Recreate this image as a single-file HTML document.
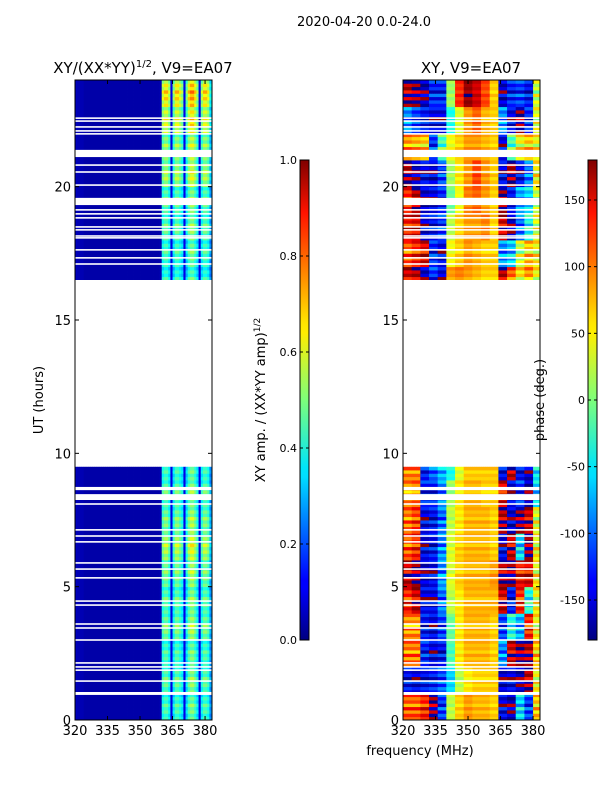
<!DOCTYPE html>
<html><head><meta charset="utf-8"><style>
body{margin:0;background:#fff;}
svg{display:block;font-family:"DejaVu Sans","Liberation Sans",sans-serif;}
</style></head><body>
<svg id="fig" width="600" height="800" xmlns="http://www.w3.org/2000/svg">
<defs>
<linearGradient id="jet" x1="0" y1="1" x2="0" y2="0">
<stop offset="0" stop-color="#000080"/><stop offset="0.11" stop-color="#0000ff"/><stop offset="0.125" stop-color="#0000ff"/>
<stop offset="0.34" stop-color="#00ddff"/><stop offset="0.36" stop-color="#00e5f8"/><stop offset="0.5" stop-color="#7dff7a"/>
<stop offset="0.64" stop-color="#ffee00"/><stop offset="0.66" stop-color="#ffe600"/><stop offset="0.89" stop-color="#ff1300"/>
<stop offset="1" stop-color="#800000"/></linearGradient>
</defs>
<text x="364" y="26" text-anchor="middle" font-size="13">2020-04-20 0.0-24.0</text>
<g id="left"></g>
<g id="right"></g>
<g id="cb1"></g>
<g id="cb2"></g>
<text x="43" y="400" font-size="13" text-anchor="middle" transform="rotate(-90 43 400)">UT (hours)</text>
<text x="420" y="755" font-size="13" text-anchor="middle">frequency (MHz)</text>
<text x="265" y="400" font-size="13" text-anchor="middle" transform="rotate(-90 265 400)">XY amp. / (XX*YY amp)<tspan dy="-5" font-size="9">1/2</tspan></text>
<text x="544" y="400" font-size="13" text-anchor="middle" transform="rotate(-90 544 400)">phase (deg.)</text>
</svg>
<script>
// ---- data ----
const freqTicks=[320,335,350,365,380];
const timeTicks=[0,5,10,15,20];
const ampTicks=[0.0,0.2,0.4,0.6,0.8,1.0];
const phaseTicks=[-150,-100,-50,0,50,100,150];
const dataSegments=[[0,9.5],[16.5,24]];
const gaps=[[22.54,22.6],[22.43,22.49],[22.21,22.27],[22.06,22.12],[21.95,22.01],[21.11,21.38],[20.78,20.84],[20.52,20.58],[20.03,20.09],[19.31,19.58],[19.1,19.16],[18.95,19.01],[18.8,18.86],[18.46,18.52],[18.35,18.41],[18.12,18.18],[18.05,18.11],[17.6,17.66],[17.3,17.36],[17.07,17.13],
[8.62,8.74],[8.25,8.47],[8.07,8.13],[7.1,7.16],[6.87,6.93],[6.65,6.71],[5.86,5.92],[5.63,5.69],[5.3,5.36],[4.43,4.49],[4.28,4.34],[3.57,3.63],[3.42,3.48],[2.97,3.03],[2.11,2.17],[1.96,2.02],[1.84,1.9],[1.43,1.49],[0.94,1.05]];
// amplitude per 1-MHz channel, 320..382
const ampCol=[0.06,0.05,0.05,0.05,0.04,0.04,0.04,0.04,0.04,0.04,0.04,0.04,0.04,0.04,0.04,0.04,0.04,0.04,0.04,0.04,0.04,0.04,0.04,0.04,0.04,0.04,0.04,0.04,0.04,0.04,0.04,0.04,0.04,0.04,0.04,0.04,0.04,0.04,0.04,0.05,
0.45,0.5,0.5,0.42,0.1,0.4,0.5,0.5,0.45,0.4,0.1,0.38,0.5,0.55,0.55,0.48,0.4,0.1,0.42,0.5,0.5,0.45,0.3];
// hourly scale of bright channels
const ampRow=[0.9,0.95,0.9,1.0,0.95,1.0,1.1,1.0,0.95,0.9,0,0,0,0,0,0,0.85,0.9,0.95,0.95,1.1,1.05,1.2,1.3];
const ampSub=[1.0,0.9,1.05,0.95,1.1,0.9,1.0,0.85];
// phase (deg) per 4-MHz block (322..382), per hour
const phaseRows={
0:[100,100,120,170,-120,20,60,80,70,70,60,-150,-170,-60,-120,60],
1:[-140,-150,-140,-130,-110,-60,20,50,60,60,60,-160,-150,-170,160,40],
2:[90,90,-130,-150,-140,-20,50,70,70,70,60,-90,150,170,160,60],
3:[80,80,-140,-150,-120,-10,50,70,70,70,60,-120,-40,-80,120,40],
4:[120,150,-150,-150,-100,20,50,70,70,70,70,150,-140,120,-40,40],
5:[150,170,-160,-150,-90,30,60,70,70,70,80,160,170,130,140,40],
6:[100,120,-150,-140,-90,30,60,70,70,70,60,-150,150,-60,170,40],
7:[90,110,-150,-140,-100,20,50,70,70,70,60,160,-160,170,150,30],
8:[80,90,-130,-130,-90,10,50,70,70,60,60,140,-150,-120,-170,-60],
9:[80,80,-140,-110,-80,-40,30,60,60,60,60,-150,150,-150,-170,-60],
16:[150,160,-160,-120,-150,80,90,80,70,60,60,160,100,50,80,40],
17:[100,120,140,-130,-150,40,60,80,70,60,60,-90,-70,20,60,40],
18:[130,140,-150,-140,-120,20,60,80,80,90,60,150,-170,-100,-40,30],
19:[120,160,-160,-150,-130,-10,40,90,100,80,60,170,-140,-80,-60,20],
20:[160,-170,-150,-160,-120,10,50,80,110,80,60,-150,160,-150,-100,40],
21:[80,70,60,-120,-20,40,60,80,80,70,60,-150,-20,40,60,40],
22:[-90,-120,-140,-150,-150,-40,30,80,100,70,60,-90,-150,170,-130,30],
23:[160,170,-170,-130,-130,10,120,170,150,110,60,-160,-130,-120,-140,20]};
const phaseSub=[0,25,-20,40,-35,15,-10,30];
// ---- helpers ----
const NS="http://www.w3.org/2000/svg";
const Y0=80,Y1=720,F0=320,F1=383.2;
function yS(h){return Y1-(h-0)/(24-0)*(Y1-Y0);}
function xS(f,x0){return x0+(f-F0)/(F1-F0)*137;}
function jet(v){v=Math.max(0,Math.min(1,v));
 const r=Math.min(4*v-1.5,-4*v+4.5),g=Math.min(4*v-0.5,-4*v+3.5),b=Math.min(4*v+0.5,-4*v+2.5);
 const c=t=>Math.round(255*Math.max(0,Math.min(1,t)));return `rgb(${c(r)},${c(g)},${c(b)})`;}
function mk(tag,attrs,parent){const e=document.createElementNS(NS,tag);for(const k in attrs)e.setAttribute(k,attrs[k]);parent.appendChild(e);return e;}
function inData(h){return dataSegments.some(s=>h>=s[0]&&h<s[1]);}
function drawAxes(g,x0){
 mk('rect',{x:x0,y:Y0,width:137,height:Y1-Y0,fill:'none',stroke:'#000','stroke-width':1},g);
 freqTicks.forEach(f=>{const x=xS(f,x0);
  mk('line',{x1:x,x2:x,y1:Y1,y2:Y1-4,stroke:'#000'},g);mk('line',{x1:x,x2:x,y1:Y0,y2:Y0+4,stroke:'#000'},g);
  const t=mk('text',{x:x,y:Y1+15,'text-anchor':'middle','font-size':13},g);t.textContent=f;
  
  });
 timeTicks.forEach(h=>{const y=yS(h);
  mk('line',{x1:x0,x2:x0+4,y1:y,y2:y,stroke:'#000'},g);mk('line',{x1:x0+137,x2:x0+133,y1:y,y2:y,stroke:'#000'},g);
  const t=mk('text',{x:x0-4,y:y+5,'text-anchor':'end','font-size':13},g);t.textContent=h;
  
  });
}
function drawHeat(g,x0,valueFn){
 for(let h=0;h<24;h+=0.125){ if(!inData(h))continue;
  const hr=Math.floor(h),sub=Math.round((h-hr)/0.125);
  for(let f=F0;f<383;f++){
   const r=mk('rect',{x:xS(f,x0).toFixed(2),y:yS(h+0.125).toFixed(2),width:(xS(f+1,x0)-xS(f,x0)+0.4).toFixed(2),height:(yS(h)-yS(h+0.125)+0.4).toFixed(2),fill:valueFn(f,hr,sub)},g);
   
   
  }}
 gaps.forEach(gp=>{const r=mk('rect',{x:x0,y:yS(gp[1]),width:137,height:yS(gp[0])-yS(gp[1]),fill:'#fff'},g);
  
  });
 mk('rect',{x:x0,y:yS(16.5),width:137,height:yS(9.5)-yS(16.5),fill:'#fff'},g);
}
// left panel
const L=document.getElementById('left');
drawHeat(L,75,(f,hr,sub)=>{const i=f-F0;let v=ampCol[i];
 if(v>0.2)v=v*ampRow[hr]*ampSub[sub];return jet(v);});
drawAxes(L,75);
let t=mk('text',{x:143,y:73,'text-anchor':'middle','font-size':15},L);
t.innerHTML='XY/(XX*YY)<tspan dy="-6" font-size="10">1/2</tspan><tspan dy="6">, V9=EA07</tspan>';


// right panel
const R=document.getElementById('right');
drawHeat(R,403,(f,hr,sub)=>{const row=phaseRows[hr];const j=Math.min(15,Math.floor((f-F0)/4));
 let p=row[j]+phaseSub[sub]*((j>=11||j<=4)?1:0.3);
 if(p>180)p-=360;if(p<-180)p+=360;return jet((p+180)/360);});
drawAxes(R,403);
t=mk('text',{x:471,y:73,'text-anchor':'middle','font-size':15},R);t.textContent='XY, V9=EA07';


// colorbars
function colorbar(g,x,vmin,vmax,ticks,fmt){
 mk('rect',{x:x,y:160,width:9,height:480,fill:'url(#jet)',stroke:'#000','stroke-width':1},g);
 ticks.forEach(v=>{const y=640-(v-vmin)/(vmax-vmin)*480;
  mk('line',{x1:x,x2:x+3,y1:y,y2:y,stroke:'#000'},g);mk('line',{x1:x+9,x2:x+6,y1:y,y2:y,stroke:'#000'},g);
  const tt=mk('text',{x:x-3,y:y+4,'font-size':11,'text-anchor':'end'},g);
  tt.textContent=fmt?v.toFixed(1):v;
  
  });
}
colorbar(document.getElementById('cb1'),300,0,1,ampTicks,true);
colorbar(document.getElementById('cb2'),588,-180,180,phaseTicks,false);
</script>
</body></html>
